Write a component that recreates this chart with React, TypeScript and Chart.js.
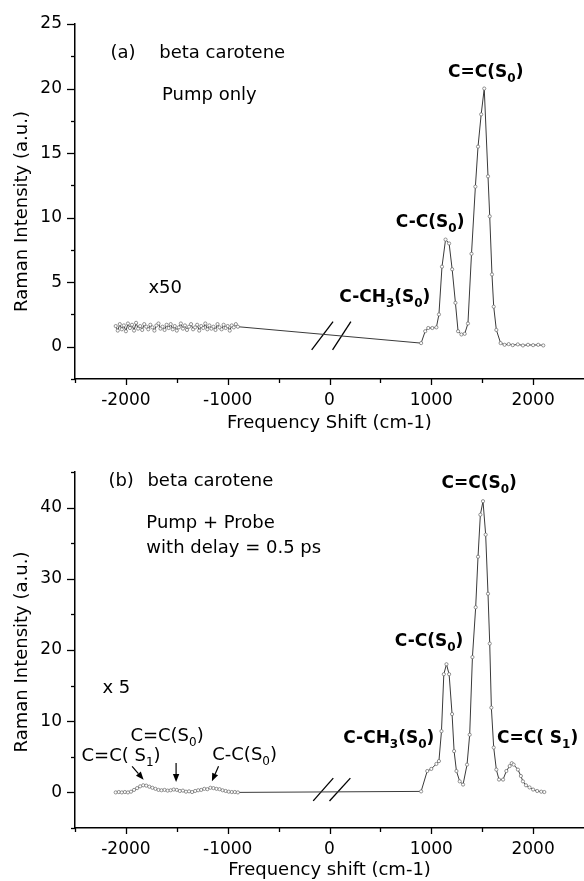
import React, { useEffect, useRef } from 'react';
import { Chart, registerables } from 'chart.js';

Chart.register(...registerables);

const FONT = '"DejaVu Sans", "Liberation Sans", Arial, sans-serif';

// ---------- Panel (a): pump only ----------
const topNoiseX = [-2100, -2080, -2060, -2040, -2020, -2000, -1980, -1960, -1940, -1920, -1900, -1880, -1860, -1840, -1820, -1800, -1780, -1760, -1740, -1720, -1700, -1680, -1660, -1640, -1620, -1600, -1580, -1560, -1540, -1520, -1500, -1480, -1460, -1440, -1420, -1400, -1380, -1360, -1340, -1320, -1300, -1280, -1260, -1240, -1220, -1200, -1180, -1160, -1140, -1120, -1100, -1080, -1060, -1040, -1020, -1000, -980, -960, -940, -920, -900];
const topNoiseY = [1.60, 1.25, 1.75, 1.35, 1.65, 1.20, 1.80, 1.45, 1.70, 1.25, 1.85, 1.40, 1.60, 1.30, 1.75, 1.55, 1.35, 1.70, 1.50, 1.25, 1.65, 1.80, 1.40, 1.55, 1.30, 1.70, 1.45, 1.75, 1.35, 1.60, 1.25, 1.50, 1.80, 1.40, 1.65, 1.30, 1.55, 1.75, 1.35, 1.50, 1.70, 1.25, 1.60, 1.45, 1.80, 1.35, 1.65, 1.40, 1.55, 1.30, 1.75, 1.50, 1.35, 1.70, 1.45, 1.60, 1.25, 1.65, 1.50, 1.75, 1.55];
const topPeakX = [900, 940, 970, 1010, 1050, 1075, 1105, 1140, 1175, 1205, 1237, 1263, 1296, 1328, 1360, 1395, 1433, 1459, 1490, 1520, 1557, 1574, 1596, 1613, 1639, 1681, 1720, 1760, 1800, 1850, 1900, 1950, 2000, 2050, 2100];
const topPeakY = [0.28, 1.2, 1.45, 1.45, 1.5, 2.5, 6.2, 8.3, 8.0, 6.0, 3.4, 1.2, 0.95, 1.0, 1.8, 7.2, 12.4, 15.5, 18.0, 20.0, 13.2, 10.1, 5.6, 3.1, 1.3, 0.28, 0.15, 0.2, 0.12, 0.18, 0.1, 0.15, 0.12, 0.15, 0.1];
const topBreakX = [[-175, 35], [30, 210]];
const topBreakY = [[-0.25, 1.95], [-0.25, 1.95]];
const topLabelText = ['(a)', 'beta carotene', 'Pump only', 'x50', 'C=C(S_0)', 'C-C(S_0)', 'C-CH_3(S_0)'];
const topLabelX = [-2152, -1672, -1645, -1779, 1165, 652, 96];
const topLabelY = [22.35, 22.35, 19.1, 4.16, 20.92, 9.31, 3.5];
const topLabelBold = [false, false, false, false, true, true, true];

// ---------- Panel (b): pump + probe ----------
const botNoiseX = [-2100, -2070, -2040, -2010, -1980, -1950, -1920, -1890, -1860, -1830, -1800, -1770, -1740, -1710, -1680, -1650, -1620, -1590, -1560, -1530, -1500, -1470, -1440, -1410, -1380, -1350, -1320, -1290, -1260, -1230, -1200, -1170, -1140, -1110, -1080, -1050, -1020, -990, -960, -930, -900];
const botNoiseY = [0.0, 0.05, 0.0, 0.05, 0.0, 0.1, 0.35, 0.6, 0.85, 1.0, 0.95, 0.8, 0.65, 0.5, 0.35, 0.3, 0.35, 0.25, 0.3, 0.4, 0.35, 0.2, 0.25, 0.1, 0.15, 0.05, 0.2, 0.3, 0.35, 0.5, 0.45, 0.65, 0.6, 0.5, 0.45, 0.3, 0.2, 0.1, 0.05, 0.05, 0.0];
const botPeakX = [900, 960, 1000, 1050, 1075, 1100, 1123, 1149, 1175, 1204, 1224, 1247, 1279, 1312, 1351, 1377, 1404, 1436, 1459, 1482, 1508, 1534, 1557, 1574, 1590, 1613, 1639, 1665, 1705, 1737, 1770, 1790, 1809, 1851, 1880, 1900, 1930, 1965, 2000, 2040, 2080, 2110];
const botPeakY = [0.14, 3.0, 3.3, 4.0, 4.4, 8.6, 16.6, 18.0, 16.6, 11.0, 5.8, 3.0, 1.55, 1.1, 3.9, 8.1, 19.0, 26.0, 33.1, 39.0, 40.9, 36.2, 27.9, 20.9, 11.9, 6.3, 3.2, 1.8, 1.8, 3.0, 3.7, 4.1, 3.9, 3.2, 2.3, 1.55, 1.0, 0.7, 0.4, 0.2, 0.1, 0.05];
const botBreakX = [[-160, 37], [0, 205]];
const botBreakY = [[-1.2, 2.0], [-1.2, 2.0]];
const botLabelText = ['(b)', 'beta carotene', 'Pump + Probe', 'with delay = 0.5 ps', 'x 5', 'C=C( S_1)', 'C=C(S_0)', 'C-C(S_0)', 'C=C(S_0)', 'C-C(S_0)', 'C-CH_3(S_0)', 'C=C( S_1)'];
const botLabelX = [-2172, -1789, -1799, -1799, -2230, -2436, -1956, -1152, 1100, 642, 135, 1645];
const botLabelY = [42.97, 42.97, 37.09, 33.56, 14.02, 4.38, 7.2, 4.62, 42.74, 20.6, 6.96, 6.96];
const botLabelBold = [false, false, false, false, false, false, false, false, true, true, true, true];
const botArrowFromX = [-1939, -1507, -1090];
const botArrowFromY = [3.67, 4.14, 3.67];
const botArrowToX = [-1826, -1507, -1155];
const botArrowToY = [1.79, 1.45, 1.55];

const xTickLabels = [-2000, -1000, 0, 1000, 2000];
const yTitle = 'Raman Intensity (a.u.)';

type Panel = {
  noiseX: number[]; noiseY: number[]; peakX: number[]; peakY: number[];
  breakX: number[][]; breakY: number[][];
  labelText: string[]; labelX: number[]; labelY: number[]; labelBold: boolean[];
  arrowFromX: number[]; arrowFromY: number[]; arrowToX: number[]; arrowToY: number[];
  yMin: number; yMax: number; yStep: number; yMajor: number; yLabelMax: number;
  xTitle: string; padTop: number; xAxisHeight: number; xTitlePad: number; yTitleShift: number;
};

const topPanel: Panel = {
  noiseX: topNoiseX, noiseY: topNoiseY, peakX: topPeakX, peakY: topPeakY,
  breakX: topBreakX, breakY: topBreakY,
  labelText: topLabelText, labelX: topLabelX, labelY: topLabelY, labelBold: topLabelBold,
  arrowFromX: [], arrowFromY: [], arrowToX: [], arrowToY: [],
  yMin: -2.5, yMax: 25, yStep: 2.5, yMajor: 5, yLabelMax: 25,
  xTitle: 'Frequency Shift (cm-1)', padTop: 24, xAxisHeight: 61, xTitlePad: 6, yTitleShift: 10,
};

const botPanel: Panel = {
  noiseX: botNoiseX, noiseY: botNoiseY, peakX: botPeakX, peakY: botPeakY,
  breakX: botBreakX, breakY: botBreakY,
  labelText: botLabelText, labelX: botLabelX, labelY: botLabelY, labelBold: botLabelBold,
  arrowFromX: botArrowFromX, arrowFromY: botArrowFromY, arrowToX: botArrowToX, arrowToY: botArrowToY,
  yMin: -5, yMax: 45, yStep: 5, yMajor: 10, yLabelMax: 40,
  xTitle: 'Frequency shift (cm-1)', padTop: 32, xAxisHeight: 53, xTitlePad: 0, yTitleShift: 2,
};

function zip(xs: number[], ys: number[]) {
  return xs.map((x, i) => ({ x, y: ys[i] }));
}

function drawRich(ctx: CanvasRenderingContext2D, text: string, x: number, y: number, bold: boolean) {
  const parts = text.split(/_(\d)/);
  const size = bold ? 17 : 18;
  const subSize = 12;
  let cx = x;
  ctx.textBaseline = 'alphabetic';
  ctx.textAlign = 'left';
  parts.forEach((p, i) => {
    if (!p) return;
    const isSub = i % 2 === 1;
    ctx.font = `${bold ? 'bold ' : ''}${isSub ? subSize : size}px ${FONT}`;
    ctx.fillText(p, cx, isSub ? y + 5 : y);
    cx += ctx.measureText(p).width;
  });
}

function makePlugin(p: Panel) {
  return {
    id: 'panelDecor',
    afterDraw(chart: any) {
      const { ctx, chartArea } = chart;
      const xs = chart.scales.x;
      const ys = chart.scales.y;
      ctx.save();
      ctx.strokeStyle = '#000';
      ctx.fillStyle = '#000';
      ctx.lineWidth = 1.3;
      // y ticks (major long, minor short), outward
      ys.ticks.forEach((t: any) => {
        const py = Math.round(ys.getPixelForValue(t.value)) + 0.5;
        const r = t.value / p.yMajor;
        const major = Math.abs(r - Math.round(r)) < 1e-6;
        const len = major ? 8 : 4;
        ctx.beginPath();
        ctx.moveTo(chartArea.left - len, py);
        ctx.lineTo(chartArea.left, py);
        ctx.stroke();
      });
      // x ticks
      xs.ticks.forEach((t: any) => {
        if (t.value >= xs.max) return;
        const px = Math.round(xs.getPixelForValue(t.value)) + 0.5;
        const major = xTickLabels.includes(t.value);
        ctx.beginPath();
        ctx.moveTo(px, chartArea.bottom);
        ctx.lineTo(px, chartArea.bottom + (major ? 6 : 4));
        ctx.stroke();
      });
      // y-axis title (rotated)
      ctx.save();
      ctx.translate(22, (chartArea.top + chartArea.bottom) / 2 + p.yTitleShift);
      ctx.rotate(-Math.PI / 2);
      ctx.font = `18px ${FONT}`;
      ctx.textAlign = 'center';
      ctx.textBaseline = 'middle';
      ctx.fillText(yTitle, 0, 0);
      ctx.restore();
      // labels
      p.labelText.forEach((txt, i) => {
        drawRich(ctx, txt, xs.getPixelForValue(p.labelX[i]), ys.getPixelForValue(p.labelY[i]), p.labelBold[i]);
      });
      // arrows
      ctx.lineWidth = 1.2;
      p.arrowFromX.forEach((fx, i) => {
        const x0 = xs.getPixelForValue(fx);
        const y0 = ys.getPixelForValue(p.arrowFromY[i]);
        const x1 = xs.getPixelForValue(p.arrowToX[i]);
        const y1 = ys.getPixelForValue(p.arrowToY[i]);
        const ang = Math.atan2(y1 - y0, x1 - x0);
        const hl = 8;
        const hw = 3.2;
        const bx = x1 - hl * Math.cos(ang);
        const by = y1 - hl * Math.sin(ang);
        ctx.beginPath();
        ctx.moveTo(x0, y0);
        ctx.lineTo(bx, by);
        ctx.stroke();
        ctx.beginPath();
        ctx.moveTo(x1, y1);
        ctx.lineTo(bx + hw * Math.sin(ang), by - hw * Math.cos(ang));
        ctx.lineTo(bx - hw * Math.sin(ang), by + hw * Math.cos(ang));
        ctx.closePath();
        ctx.fill();
      });
      ctx.restore();
    },
  };
}

function buildConfig(p: Panel): any {
  const spectrum = [...zip(p.noiseX, p.noiseY), ...zip(p.peakX, p.peakY)];
  const breaks = p.breakX.map((bx, i) => ({
    data: zip(bx, p.breakY[i]),
    borderColor: '#000',
    borderWidth: 1.3,
    pointRadius: 0,
    pointHoverRadius: 0,
    tension: 0,
  }));
  return {
    type: 'line',
    data: {
      datasets: [
        {
          data: spectrum,
          borderColor: '#3a3a3a',
          borderWidth: 1,
          pointRadius: 1.6,
          pointHoverRadius: 1.6,
          pointBorderWidth: 0.7,
          pointBorderColor: '#666',
          pointBackgroundColor: '#fff',
          tension: 0,
        },
        ...breaks,
      ],
    },
    options: {
      animation: false,
      responsive: false,
      events: [],
      layout: { autoPadding: false, padding: { top: p.padTop, left: 0, right: 0, bottom: 0 } },
      plugins: { legend: { display: false }, tooltip: { enabled: false } },
      scales: {
        x: {
          type: 'linear',
          min: -2500,
          max: 2500,
          afterFit: (s: any) => {
            s.height = p.xAxisHeight;
            s.paddingLeft = 0;
            s.paddingRight = 0;
          },
          grid: { display: false, drawTicks: true, tickLength: 6 },
          border: { display: true, color: '#000', width: 1.5 },
          ticks: {
            stepSize: 500,
            autoSkip: false,
            maxRotation: 0,
            padding: 5,
            color: '#000',
            font: { family: FONT, size: 17 },
            callback: (v: number) => (xTickLabels.includes(v) ? String(v) : ''),
          },
          title: {
            display: true,
            text: p.xTitle,
            color: '#000',
            font: { family: FONT, size: 18 },
            padding: { top: 0, bottom: p.xTitlePad },
          },
        },
        y: {
          type: 'linear',
          min: p.yMin,
          max: p.yMax,
          afterFit: (s: any) => { s.width = 75; },
          grid: { display: false, drawTicks: true, tickLength: 8 },
          border: { display: true, color: '#000', width: 1.5 },
          ticks: {
            stepSize: p.yStep,
            autoSkip: false,
            padding: 5,
            color: '#000',
            font: { family: FONT, size: 17 },
            callback: (v: number) => {
              const r = v / p.yMajor;
              return v >= 0 && v <= p.yLabelMax && Math.abs(r - Math.round(r)) < 1e-6 ? String(Math.round(v)) : '';
            },
          },
          title: { display: false },
        },
      },
    },
    plugins: [makePlugin(p)],
  };
}

function PanelChart({ panel, height }: { panel: Panel; height: number }) {
  const ref = useRef<HTMLCanvasElement | null>(null);
  useEffect(() => {
    if (!ref.current) return;
    const chart = new Chart(ref.current, buildConfig(panel));
    return () => chart.destroy();
  }, [panel]);
  return <canvas ref={ref} width={584} height={height} style={{ display: 'block', width: 584, height }} />;
}

export default function App() {
  return (
    <div style={{ position: 'absolute', left: 0, top: 0, width: 584, height: 881, background: '#fff' }}>
      <PanelChart panel={topPanel} height={440} />
      <PanelChart panel={botPanel} height={441} />
    </div>
  );
}
